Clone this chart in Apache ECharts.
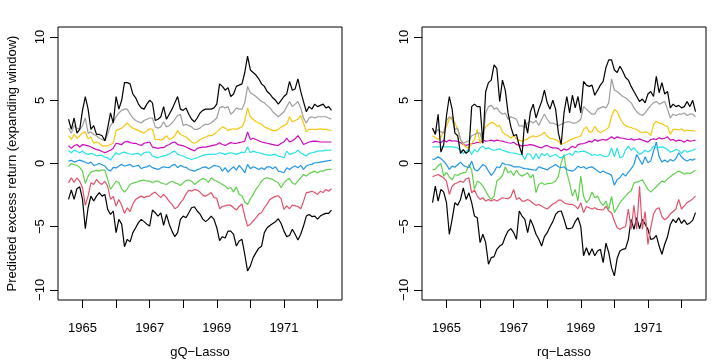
<!DOCTYPE html>
<html>
<head>
<meta charset="utf-8">
<title>Predicted excess return</title>
<script src="https://cdn.jsdelivr.net/npm/echarts@6/dist/echarts.min.js"></script>
<style>
  html, body { margin: 0; background: #fff; }
  #chart { width: 728px; height: 364px; }
</style>
</head>
<body>
<div id="chart"></div>
<script>
// monthly forecasts, first one is Aug 1964
var startYear = 1964, startMonth = 8;
var yearTicks = [1965, 1966, 1967, 1968, 1969, 1970, 1971, 1972];
var yearLabels = [1965, 1967, 1969, 1971];
var yTicks = [-10, -5, 0, 5, 10];
var panelNames = ['gQ\u2212Lasso', 'rq\u2212Lasso'];
// quantile lines from low to high (R palette)
var lineColors = ['#000000', '#DF536B', '#61D04F', '#2297E6', '#28E2E5', '#CD0BBC', '#F5C710', '#9E9E9E', '#000000'];

// gQ-Lasso panel
var gq1 = [-2.84,-2.1,-2.84,-2.0,-1.84,-2.84,-5.16,-3.5,-2.58,-2.97,
  -2.58,-2.31,-2.58,-2.45,-3.63,-4.03,-3.76,-5.47,-4.42,-4.8,
  -6.58,-6.0,-6.2,-5.47,-5.08,-4.68,-4.42,-4.6,-4.8,-4.95,
  -3.68,-3.9,-4.16,-3.9,-4.9,-4.03,-4.8,-5.35,-5.79,-5.47,
  -4.42,-4.16,-4.29,-3.9,-3.5,-3.42,-3.76,-4.0,-4.4,-4.6,
  -4.42,-4.16,-4.42,-5.08,-6.1,-5.79,-5.9,-5.35,-5.35,-5.6,
  -6.53,-6.13,-6.0,-7.2,-8.5,-8.1,-7.45,-7.05,-6.7,-6.55,
  -5.47,-5.08,-4.9,-4.75,-4.6,-4.37,-4.75,-5.35,-5.79,-5.7,
  -5.2,-5.6,-6.05,-5.6,-4.95,-4.16,-4.03,-4.2,-4.16,-4.4,
  -4.16,-4.03,-3.95,-3.95,-3.68];
var gq2 = [-1.53,-1.13,-1.5,-1.13,-1.4,-1.92,-3.31,-2.58,-1.53,-1.66,
  -1.26,-1.53,-1.66,-1.4,-1.8,-2.84,-2.6,-3.37,-2.84,-3.3,
  -3.95,-3.5,-3.8,-3.2,-2.84,-2.7,-2.58,-2.7,-2.6,-2.58,
  -2.37,-2.26,-2.5,-2.7,-2.45,-2.7,-3.0,-3.24,-3.58,-3.45,
  -3.1,-2.84,-2.4,-2.1,-2.2,-2.05,-2.1,-2.26,-2.5,-2.6,
  -2.45,-2.3,-2.7,-2.75,-3.58,-3.4,-3.35,-3.3,-3.3,-3.5,
  -3.68,-3.4,-3.2,-4.16,-4.95,-4.8,-4.55,-4.3,-4.0,-3.9,
  -3.5,-3.2,-2.84,-2.7,-2.6,-2.55,-2.8,-3.63,-3.35,-3.58,
  -3.3,-3.35,-3.4,-3.58,-3.0,-2.3,-2.26,-2.2,-2.3,-2.45,
  -2.2,-2.3,-2.05,-2.2,-2.0];
var gq3 = [-0.25,0.0,-0.1,-0.15,-0.3,-0.6,-1.58,-1.0,-0.68,-0.6,
  -0.55,-0.6,-0.5,-0.55,-1.26,-2.05,-1.74,-1.4,-1.5,-2.0,
  -2.26,-2.0,-1.66,-1.55,-1.5,-1.4,-1.35,-1.3,-1.4,-1.4,
  -1.53,-1.4,-1.4,-1.53,-1.6,-1.66,-1.5,-1.4,-1.53,-1.6,
  -1.74,-1.53,-1.35,-1.3,-1.4,-1.66,-1.5,-1.3,-1.2,-1.26,
  -1.5,-1.13,-1.3,-1.4,-1.53,-1.66,-1.79,-2.0,-1.9,-2.26,
  -1.85,-2.45,-2.55,-3.05,-3.24,-2.8,-2.45,-2.05,-1.74,-1.4,
  -1.2,-1.13,-1.2,-1.26,-1.4,-1.53,-1.92,-1.53,-1.3,-1.2,
  -1.53,-1.66,-1.4,-1.13,-0.87,-1.0,-0.8,-0.7,-0.6,-0.75,
  -0.6,-0.6,-0.5,-0.47,-0.47];
var gq4 = [0.19,0.25,0.11,0.2,0.27,0.19,0.1,0.0,0.11,-0.15,
  -0.1,0.0,-0.1,-0.2,-0.47,-0.6,-0.3,-0.35,-0.2,-0.07,
  -0.2,-0.15,-0.07,-0.26,-0.2,-0.15,-0.41,-0.3,-0.26,-0.15,
  -0.33,-0.4,-0.47,-0.35,-0.26,-0.3,-0.33,-0.15,-0.07,-0.33,
  -0.15,-0.26,-0.3,-0.47,-0.55,-0.6,-0.5,-0.41,-0.3,-0.26,
  -0.41,-0.3,-0.15,-0.2,-0.26,-0.6,-0.33,-0.68,-0.45,-0.26,
  -0.52,-0.15,-0.41,-0.73,-0.07,-0.41,-0.26,-0.35,-0.47,-0.33,
  -0.47,-0.26,-0.26,-0.41,-0.26,-0.6,-0.65,-0.73,-0.33,-0.47,
  -0.3,-0.2,-0.33,-0.15,-0.47,-0.2,-0.1,-0.07,0.06,0.06,
  0.11,0.15,0.19,0.22,0.27];
var gq5 = [1.0,0.85,1.06,0.95,0.85,0.98,0.8,0.72,0.8,0.75,
  0.6,0.65,0.64,0.5,0.45,0.27,0.59,0.85,0.72,0.85,
  0.9,0.8,0.75,0.72,0.78,0.8,0.64,0.85,0.9,0.9,
  0.59,0.5,0.45,0.55,0.6,0.64,0.75,0.9,0.98,0.72,
  0.65,0.59,0.45,0.4,0.32,0.4,0.45,0.55,0.64,0.7,
  0.72,0.72,0.72,0.75,0.85,0.8,0.72,0.8,0.85,0.8,
  0.72,0.8,0.9,0.85,1.32,0.85,0.98,0.9,0.85,0.8,
  0.72,0.68,0.64,0.7,0.72,0.59,0.55,0.45,0.98,0.72,
  0.8,0.85,1.06,0.85,0.72,0.59,0.8,0.85,0.9,0.98,
  1.0,1.0,1.06,1.05,1.06];
var gq6 = [1.4,1.2,1.4,1.5,1.3,1.5,1.45,1.4,1.3,1.2,
  1.1,1.06,0.95,0.85,0.95,1.05,1.2,1.6,1.55,1.5,
  1.7,1.75,1.65,1.6,1.6,1.5,1.43,1.6,1.65,1.7,
  1.3,1.25,1.2,1.25,1.25,1.4,1.5,1.64,1.7,1.5,
  1.45,1.4,1.3,1.2,1.1,1.0,1.2,1.25,1.3,1.3,
  1.35,1.4,1.45,1.5,1.64,1.5,1.43,1.55,1.65,1.6,
  1.6,1.65,1.7,1.77,2.5,1.9,2.0,1.9,1.8,1.7,
  1.65,1.6,1.55,1.5,1.45,1.43,1.6,1.7,2.0,1.7,
  1.8,1.95,2.2,1.9,1.5,1.6,1.7,1.75,1.77,1.75,
  1.7,1.7,1.7,1.7,1.7];
var gq7 = [2.2,1.9,2.3,2.0,2.2,2.4,2.5,1.95,2.1,1.6,
  1.7,1.6,1.4,1.4,1.4,1.5,1.6,2.6,2.7,2.8,
  3.0,3.2,2.95,2.8,2.7,2.6,2.5,2.4,2.6,2.75,
  2.7,1.9,1.9,1.85,1.95,2.2,1.9,2.0,2.2,2.6,
  2.3,2.2,2.1,1.9,1.7,1.6,1.7,1.9,2.0,2.1,
  2.2,2.2,2.3,2.5,2.7,2.9,2.8,2.6,2.7,2.75,
  2.7,2.8,2.9,3.35,4.4,3.7,3.5,3.3,3.2,3.1,
  2.9,2.8,2.7,2.6,2.6,2.7,2.9,3.0,3.1,3.7,
  3.3,3.4,3.5,3.8,3.2,2.5,2.7,2.7,2.7,2.7,
  2.75,2.7,2.7,2.65,2.6];
var gq8 = [2.8,2.4,3.0,2.8,2.7,3.0,3.6,2.4,2.5,2.3,
  2.2,2.0,1.9,1.8,2.3,3.0,3.3,3.7,4.0,4.2,
  4.3,4.3,3.9,3.6,3.4,3.3,3.2,3.4,3.5,3.6,
  3.6,2.9,2.8,2.9,3.3,2.9,3.0,3.2,3.5,3.8,
  3.9,3.0,3.1,3.0,2.9,2.7,2.7,2.8,3.0,3.1,
  3.1,3.2,3.4,3.6,4.4,4.5,4.4,4.5,3.9,4.1,
  4.4,4.3,4.3,4.8,6.1,5.6,5.45,5.3,5.1,4.9,
  4.8,4.6,4.4,4.1,3.9,3.7,3.9,4.1,4.5,4.9,
  4.5,4.7,4.9,4.4,3.6,3.2,3.6,3.7,3.6,3.7,
  3.7,3.7,3.7,3.6,3.5];
var gq9 = [3.5,2.7,3.6,2.4,2.7,4.2,5.3,4.3,2.7,3.0,
  2.3,2.3,2.2,1.8,2.8,4.0,3.2,5.3,4.3,5.0,
  6.4,6.4,6.3,5.5,5.2,4.7,4.4,4.3,4.7,5.0,
  4.8,3.4,3.5,3.7,4.5,3.5,3.9,4.3,4.8,5.3,
  4.3,4.2,4.4,3.9,3.5,3.3,3.6,4.0,4.2,4.3,
  4.3,4.3,4.4,4.7,6.3,6.1,5.8,6.0,5.3,5.5,
  6.1,6.2,6.3,7.2,8.5,7.4,7.2,7.0,6.7,6.3,
  6.1,5.7,5.5,5.2,5.0,4.7,5.0,5.3,5.5,6.5,
  5.8,5.9,6.7,5.7,4.9,4.1,4.5,4.3,4.7,4.5,
  4.6,4.7,4.4,4.5,4.2];

// rq-Lasso panel
var rq1 = [-3.1,-1.79,-2.97,-2.05,-2.26,-3.1,-5.6,-4.42,-3.1,-3.31,
  -2.84,-1.92,-2.84,-2.32,-3.1,-4.16,-4.3,-6.26,-5.6,-6.26,
  -7.97,-7.45,-7.37,-6.79,-6.53,-6.39,-5.79,-5.34,-5.15,-5.47,
  -6.0,-3.76,-4.16,-4.42,-5.47,-4.42,-4.95,-5.6,-6.0,-6.53,
  -5.79,-5.47,-5.0,-4.6,-4.03,-3.8,-3.76,-4.4,-5.16,-5.16,
  -5.08,-4.6,-4.29,-5.0,-7.3,-6.66,-7.26,-6.74,-7.3,-6.92,
  -6.79,-7.84,-6.3,-7.05,-8.24,-8.89,-7.5,-6.92,-6.79,-6.74,
  -6.0,-4.42,-5.21,-4.29,-5.16,-4.42,-4.8,-5.2,-6.0,-5.95,
  -5.68,-6.53,-7.18,-6.39,-5.79,-4.82,-4.42,-4.68,-4.29,-4.74,
  -4.47,-4.82,-4.7,-4.5,-3.89];
var rq2 = [-1.05,-0.95,-0.87,-1.0,-1.13,-1.39,-2.45,-1.8,-1.6,-1.5,
  -1.39,-1.5,-1.21,-1.13,-2.32,-2.1,-2.58,-2.84,-2.71,-2.97,
  -2.84,-2.97,-2.84,-2.97,-2.84,-2.71,-2.75,-2.79,-2.63,-2.05,
  -2.84,-2.71,-2.97,-2.97,-2.84,-2.97,-3.16,-3.31,-3.24,-3.37,
  -3.5,-3.6,-3.4,-3.2,-3.1,-2.9,-2.9,-3.1,-3.2,-3.24,
  -3.24,-3.37,-3.58,-3.1,-3.89,-3.4,-3.5,-3.6,-3.5,-3.63,
  -3.65,-3.68,-3.37,-3.76,-3.9,-4.55,-5.08,-5.21,-5.08,-5.0,
  -3.6,-5.2,-3.3,-5.2,-1.8,-5.2,-3.8,-6.4,-5.1,-4.0,
  -3.6,-3.5,-4.2,-4.45,-4.3,-4.0,-3.8,-3.6,-2.84,-3.6,
  -3.35,-3.1,-2.97,-2.8,-2.58];
var rq3 = [-0.5,-0.45,-0.16,0.0,-1.0,-0.7,-1.05,-1.3,-0.87,-0.95,
  -0.8,-0.74,-0.68,-0.08,-0.53,-2.05,-1.39,-1.53,-1.79,-2.18,
  -2.58,-2.84,-2.58,-1.39,-1.21,-0.95,-0.26,-0.74,-0.6,-0.95,
  -0.53,-0.87,-1.0,-0.87,-0.74,-1.13,-0.87,-2.3,-1.66,-1.53,
  -1.66,-1.6,-1.58,-1.53,-1.39,-1.0,0.05,0.71,-0.74,-1.53,
  -2.58,-2.05,-2.97,-1.0,-2.6,-3.1,-2.84,-2.26,-2.71,-2.58,
  -3.05,-3.31,-2.97,-3.63,-2.6,-3.89,-3.5,-3.1,-2.84,-2.58,
  -2.32,-2.18,-1.53,-1.47,-1.39,-1.3,-1.66,-2.05,-2.26,-2.05,
  -1.84,-1.6,-1.39,-1.47,-1.21,-1.05,-0.87,-0.74,-0.6,-0.7,
  -0.85,-0.74,-0.79,-0.68,-0.53];
var rq4 = [0.32,0.37,0.53,0.37,0.19,-0.08,-0.47,-0.2,-0.3,-0.1,
  0.11,-0.15,-0.26,-0.34,0.19,-0.47,-0.6,-0.34,-0.08,-0.21,
  -0.6,-0.94,-0.68,-0.26,-0.34,0.06,-0.08,-0.1,-0.15,-0.26,
  -0.26,-0.26,-0.34,-0.4,-0.42,-0.47,-0.5,-0.52,-0.26,-0.35,
  -0.42,-0.52,-0.34,-0.21,-0.08,-0.26,-0.34,-0.26,-0.47,-0.55,
  -0.6,-0.47,-0.21,-0.34,-0.26,-0.42,-0.3,-0.26,-0.42,-0.6,
  -0.73,-0.6,-0.73,-0.8,-0.94,-1.73,-1.26,-1.13,-0.79,-1.0,
  -0.68,-0.42,-0.08,0.71,0.3,-0.08,0.53,0.06,0.19,0.98,
  1.69,0.53,0.11,0.27,0.11,0.32,0.19,0.37,0.85,0.53,
  0.32,0.19,0.32,0.27,0.37];
var rq5 = [1.32,1.32,1.32,1.32,1.32,1.32,1.32,1.32,1.3,1.24,
  1.05,0.79,0.98,1.11,0.71,1.11,0.9,1.24,1.37,1.16,
  1.24,1.11,1.05,1.1,1.16,1.05,0.98,0.9,0.85,0.82,
  0.79,0.71,0.71,0.32,0.79,0.71,0.32,0.79,0.37,0.79,
  0.63,0.79,0.53,0.63,0.71,0.53,0.45,0.6,0.71,0.79,
  0.63,0.98,0.9,0.95,0.98,0.9,0.79,0.63,0.71,0.63,
  0.71,0.6,0.53,0.63,1.24,0.53,1.24,0.45,0.53,1.05,
  1.37,1.05,1.24,0.98,0.71,0.85,1.05,0.9,1.05,1.37,
  1.24,1.28,1.32,1.24,1.11,0.9,0.98,1.11,1.05,0.79,
  1.05,0.9,0.98,1.05,1.16];
var rq6 = [1.64,1.75,1.7,1.64,1.85,1.7,1.85,1.77,1.8,1.75,
  1.64,1.5,1.43,1.5,1.58,1.6,1.68,1.64,1.85,1.77,
  1.8,1.85,1.77,1.85,1.8,1.77,1.7,1.64,1.6,1.68,
  1.5,1.45,1.37,1.43,1.45,1.5,1.45,1.37,1.3,1.24,
  1.37,1.43,1.3,1.24,1.24,1.2,0.98,1.16,1.05,1.2,
  1.37,1.24,1.5,1.55,1.58,1.65,1.77,1.69,1.9,1.77,
  1.85,1.9,1.85,1.95,2.11,1.95,2.11,2.03,2.0,1.95,
  1.9,1.95,1.85,1.9,1.95,1.85,1.77,1.69,1.9,1.95,
  1.9,2.03,1.95,2.0,2.11,1.85,1.9,1.77,1.85,1.8,
  1.69,1.85,1.77,1.8,1.85];
var rq7 = [2.2,2.05,1.9,2.1,2.5,2.95,3.5,3.7,3.2,2.7,
  1.9,1.5,1.3,1.24,1.6,1.9,2.7,1.6,2.4,2.9,
  3.08,3.25,3.2,2.95,3.0,2.5,2.3,2.2,2.0,2.2,
  1.95,1.85,1.77,1.85,1.95,2.1,2.2,2.1,2.2,2.3,
  2.47,2.15,2.0,1.95,1.9,1.75,1.5,1.6,1.7,1.85,
  1.95,2.03,2.1,2.2,2.7,2.9,2.5,2.5,2.95,2.6,
  2.45,2.55,2.7,2.85,3.74,4.27,4.1,3.6,3.2,3.0,
  2.9,2.85,2.75,2.7,2.5,2.45,2.5,2.45,2.2,3.08,
  3.35,3.2,3.15,3.0,2.95,2.3,2.7,2.7,2.65,2.75,
  2.55,2.65,2.6,2.6,2.55];
var rq8 = [2.7,2.4,2.7,2.5,2.4,3.4,3.7,3.5,2.7,2.8,
  1.9,1.6,1.7,1.8,2.2,2.3,2.4,2.4,1.6,4.0,
  4.5,4.6,4.3,4.4,4.1,3.9,4.0,3.5,3.7,3.6,
  3.5,2.95,3.0,2.8,3.2,3.35,3.2,3.4,3.0,3.5,
  3.9,3.5,3.2,3.2,3.1,3.0,3.1,3.2,3.3,3.3,
  3.2,3.2,3.3,3.5,4.5,4.3,4.1,3.9,3.9,4.3,
  4.4,4.5,4.4,4.8,6.7,5.8,5.7,5.5,5.3,5.2,
  5.0,4.8,4.4,4.1,3.9,3.8,4.0,4.3,4.6,4.8,
  4.9,4.7,4.8,4.9,4.3,3.6,3.9,3.8,3.9,3.9,
  4.0,3.8,3.9,3.9,3.7];
var rq9 = [2.8,2.3,3.9,0.9,1.5,3.8,5.3,4.3,2.4,2.2,
  0.8,1.1,0.8,1.0,4.5,4.7,4.5,4.5,1.6,5.7,
  6.4,6.6,7.8,7.5,4.9,6.6,5.8,4.0,2.9,2.2,
  2.3,1.4,0.7,3.5,2.4,4.1,4.7,3.6,4.3,4.9,
  5.8,4.8,4.3,5.0,4.3,2.4,1.5,4.0,5.3,4.0,
  5.4,4.4,5.3,4.0,6.5,6.2,6.1,6.2,5.4,5.8,
  6.2,6.5,7.6,8.2,8.2,7.4,7.2,7.7,7.3,6.8,
  6.6,6.1,5.7,5.3,4.9,5.1,4.8,5.5,5.7,5.3,
  6.9,5.6,6.4,5.5,5.7,4.4,4.7,4.5,4.6,4.4,
  4.5,4.9,4.5,5.0,4.1];

var panels = [
  [gq1, gq2, gq3, gq4, gq5, gq6, gq7, gq8, gq9],
  [rq1, rq2, rq3, rq4, rq5, rq6, rq7, rq8, rq9]
];

var font = 'Liberation Sans, Arial, Helvetica, sans-serif';

function toPoints(arr) {
  return arr.map(function (v, i) {
    return [startYear + (startMonth - 1 + i) / 12, v];
  });
}
function minus(v) { return String(v).replace('-', '\u2212'); }

var grids = [], xAxes = [], yAxes = [], series = [];
[58, 422].forEach(function (left, k) {
  grids.push({
    left: left, width: 284, top: 27, bottom: 64,
    show: true, borderColor: '#000', borderWidth: 1, backgroundColor: 'transparent'
  });
  xAxes.push({
    gridIndex: k, type: 'value', min: 1964.27, max: 1972.73,
    axisLine: { show: false, onZero: false },
    axisTick: { show: true, customValues: yearTicks, length: 8, lineStyle: { color: '#000', width: 1 } },
    axisLabel: { customValues: yearLabels, color: '#000', fontSize: 13, fontFamily: font, margin: 22,
      formatter: function (v) { return String(v); } },
    splitLine: { show: false },
    name: panelNames[k], nameLocation: 'middle', nameGap: 46,
    nameTextStyle: { color: '#000', fontSize: 13, fontFamily: font }
  });
  yAxes.push({
    gridIndex: k, type: 'value', min: -10.8, max: 10.8,
    axisLine: { show: false, onZero: false },
    axisTick: { show: true, customValues: yTicks, length: 8, lineStyle: { color: '#000', width: 1 } },
    axisLabel: { customValues: yTicks, color: '#000', fontSize: 13, fontFamily: font, rotate: 90, margin: 11,
      formatter: function (v) { return minus(v); } },
    splitLine: { show: false },
    name: k === 0 ? 'Predicted excess return (expanding window)' : '',
    nameLocation: 'middle', nameGap: 39,
    nameTextStyle: { color: '#000', fontSize: 13, fontFamily: font }
  });
  panels[k].forEach(function (arr, j) {
    series.push({
      type: 'line', xAxisIndex: k, yAxisIndex: k,
      data: toPoints(arr), showSymbol: false, symbol: 'none',
      lineStyle: { color: lineColors[j], width: 1.2 },
      z: 2
    });
  });
});

var chart = echarts.init(document.getElementById('chart'), null, { renderer: 'canvas' });
chart.setOption({
  animation: false,
  backgroundColor: '#fff',
  grid: grids,
  xAxis: xAxes,
  yAxis: yAxes,
  series: series
});
</script>
</body>
</html>
